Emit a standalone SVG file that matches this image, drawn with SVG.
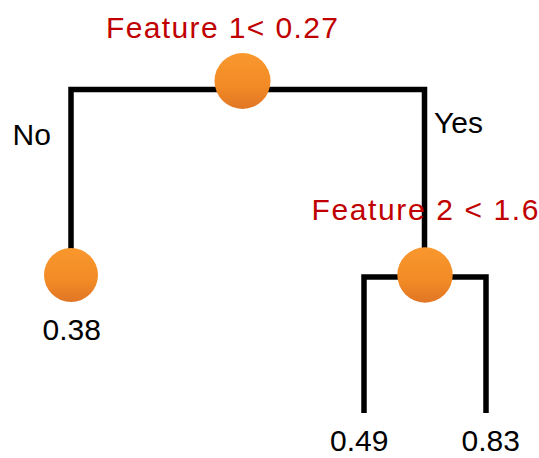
<svg xmlns="http://www.w3.org/2000/svg" width="539" height="458" viewBox="0 0 539 458">
<style>
.edge{fill:none;stroke:#000;stroke-width:5.5;stroke-linejoin:miter;stroke-linecap:butt}
.node{fill:url(#orange)}
.lbl{font-family:"Liberation Sans",Arial,sans-serif;font-size:30px;fill:#000}
.cond{fill:#c00000}
</style>
<defs>
<linearGradient id="orange" x1="0" y1="0" x2="0" y2="1">
<stop offset="0" stop-color="#f9982e"/>
<stop offset="0.6" stop-color="#f28a25"/>
<stop offset="1" stop-color="#e07625"/>
</linearGradient>
</defs>
<g id="connectors">
<path class="edge" d="M71,260 V89.5 H424.5 V260"/>
<path class="edge" d="M364,413 V277 H486 V413"/>
</g>
<g id="root">
<circle class="node" cx="242.5" cy="81" r="28"/>
<text class="lbl cond" x="106" y="38" textLength="232" lengthAdjust="spacing">Feature 1&lt; 0.27</text>
</g>
<g id="leaf-left">
<circle class="node" cx="71" cy="275" r="27"/>
<text class="lbl" x="42.5" y="340">0.38</text>
</g>
<g id="split2">
<circle class="node" cx="425" cy="275" r="27.7"/>
<text class="lbl cond" x="311.5" y="220" textLength="227" lengthAdjust="spacing">Feature 2 &lt; 1.6</text>
</g>
<g id="leaf-mid">
<text class="lbl" x="330" y="451">0.49</text>
</g>
<g id="leaf-right">
<text class="lbl" x="461.5" y="451">0.83</text>
</g>
<g id="edge-labels">
<text class="lbl" x="12.5" y="145">No</text>
<text class="lbl" x="434" y="133">Yes</text>
</g>
</svg>
